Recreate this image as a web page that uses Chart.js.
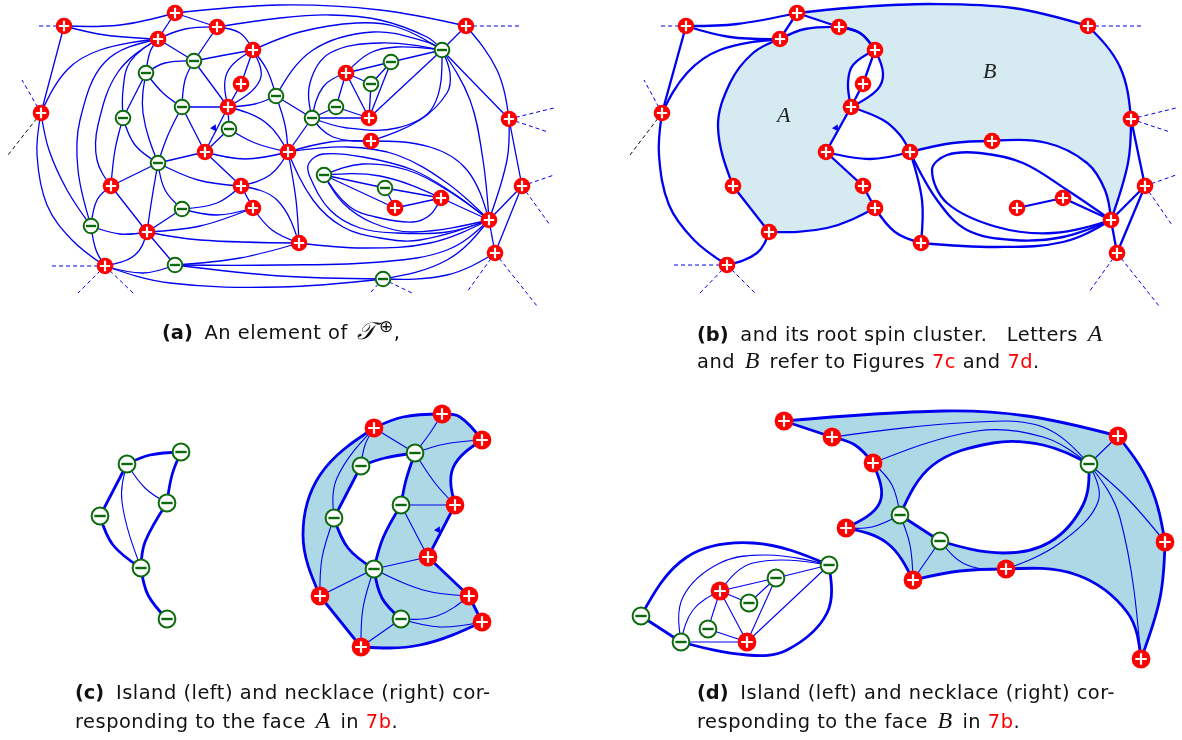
<!DOCTYPE html>
<html>
<head>
<meta charset="utf-8">
<title>Spin clusters</title>
<script src="https://cdn.jsdelivr.net/npm/chart.js@4/dist/chart.umd.min.js"></script>
<style>
  body { margin: 0; background: #fff; }
  #wrap { position: relative; width: 1182px; height: 740px; overflow: hidden; }
  canvas { display: block; }
  .cap { position: absolute; font-family: "DejaVu Sans", sans-serif; font-size: 19.4px; letter-spacing: 0.52px; line-height: 24px; color: #111; white-space: nowrap; }
  .cap b { font-weight: 700; letter-spacing: 0; margin-right: 5px; }
  .cap i, .let { font-family: "Liberation Serif", serif; font-style: italic; }
  .cap i { font-size: 24px; margin: 0 3px; }
  .cap em { font-style: normal; color: #f00; }
  .cap sup { font-size: 17px; line-height: 0; }
  .let { position: absolute; font-size: 22px; color: #222; }
</style>
</head>
<body>
<div id="wrap">
  <canvas id="myChart" width="1182" height="740"></canvas>
  <div class="let" style="left:777px;top:102px">A</div>
  <div class="let" style="left:983px;top:58px">B</div>
  <div class="cap" style="left:162px;top:319px"><b>(a)</b> An element of <i>𝒯</i><sup>⊕</sup>,</div>
  <div class="cap" style="left:697px;top:321px"><b>(b)</b> and its root spin cluster. &nbsp;<span style="margin-left:6px">Letters</span> <i>A</i></div>
  <div class="cap" style="left:697px;top:348px">and <i>B</i> refer to Figures <em>7c</em> and <em>7d</em>.</div>
  <div class="cap" style="left:75px;top:681px"><b>(c)</b> Island (left) and necklace (right) cor-</div>
  <div class="cap" style="left:75px;top:708px">responding to the face <i>A</i> in <em>7b</em>.</div>
  <div class="cap" style="left:697px;top:681px"><b>(d)</b> Island (left) and necklace (right) cor-</div>
  <div class="cap" style="left:697px;top:708px">responding to the face <i>B</i> in <em>7b</em>.</div>
</div>
<script>
/* panel a */
const aPlus = [64,26, 175,13, 158,39, 217,27, 253,50, 241,84, 228,107, 205,152, 288,152, 41,113, 466,26, 346,73, 369,118, 371,141, 509,119, 111,186, 147,232, 241,186, 253,208, 299,243, 105,266, 441,198, 395,208, 489,220, 522,186, 495,253];
const aMinus = [146,73, 194,61, 182,107, 123,118, 276,96, 229,129, 158,163, 442,50, 391,62, 371,84, 336,107, 312,118, 182,209, 91,226, 175,265, 324,175, 385,188, 383,279];
const aEdges = [
  [64,26,120,25,175,13], [64,26,105,35,158,39], [64,26,41,113],
  [175,13,158,39], [175,13,217,27], [175,13,280,5,380,10,466,26],
  [217,27,280,18,330,15,380,20,427,37,442,50], [217,27,240,33,253,50], [217,27,194,61], [158,39,185,29,217,27],
  [158,39,194,61], [158,39,150,52,146,73],
  [158,39,100,50,67,70,41,113],
  [158,39,105,62,80,120,78,170,91,226],
  [158,39,118,72,98,125,97,160,111,186],
  [158,39,130,62,123,90,123,118],
  [41,113,37,155,47,205,72,240,105,266],
  [41,113,49,150,67,190,91,226],
  [146,73,165,63,194,61], [146,73,163,93,182,107], [146,73,143,113,158,163], [146,73,123,118],
  [194,61,185,80,182,107], [194,61,228,107], [194,61,225,55,253,50],
  [182,107,228,107], [182,107,205,152], [182,107,168,135,158,163],
  [123,118,135,145,158,163], [123,118,115,150,111,186],
  [228,107,241,84], [253,50,227,73,228,107], [253,50,260,80,228,107], [241,84,253,50],
  [228,107,255,104,276,96], [228,107,229,129], [228,107,205,152], [229,129,205,152], [229,129,255,143,288,152],
  [228,107,265,122,288,152], [205,152,245,159,288,152], [205,152,158,163], [205,152,241,186],
  [253,50,267,70,276,96], [276,96,285,125,288,152], [276,96,312,118],
  [158,163,198,180,241,186], [158,163,111,186], [158,163,152,198,147,232], [158,163,165,190,182,209],
  [241,186,217,203,182,209], [182,209,217,215,253,208], [182,209,147,232],
  [147,232,200,226,253,208], [147,232,200,240,299,243], [147,232,111,186], [147,232,120,234,91,226],
  [147,232,135,255,105,266], [147,232,175,265],
  [111,186,97,200,91,226], [91,226,96,250,105,266],
  [241,186,277,200,299,243], [253,208,241,186], [253,208,272,230,299,243], [241,186,270,175,288,152],
  [105,266,143,273,175,265], [105,266,170,283,280,287,383,279],
  [175,265,280,265,380,262,447,250,489,220], [175,265,280,276,383,279], [175,265,240,258,299,243],
  [383,279,447,260,489,220], [383,279,447,275,495,253],
  [299,243,363,248,430,243,489,220], [288,152,296,200,299,243],
  [288,152,313,200,343,227,380,238,420,240,489,220],
  [489,220,447,232,397,233,360,228,330,210,310,177,309,163,323,154,363,157,413,170,453,193,489,220],
  [288,152,330,142,371,141], [288,152,347,147,397,155,447,183,489,220], [371,141,430,147,467,170,489,220],
  [324,175,395,208], [324,175,385,188], [324,175,380,176,441,198], [324,175,363,164,407,170,447,190,489,220],
  [324,175,350,207,380,218,413,222,430,215,441,198], [324,175,343,203,373,223,413,232,489,220],
  [385,188,395,208], [385,188,441,198], [395,208,441,198], [441,198,489,220],
  [288,152,312,118], [312,118,369,118], [312,118,336,107], [312,118,323,87,346,73],
  [312,118,310,83,330,53,380,43,442,50], [312,118,347,128,397,128,433,107,442,50], [312,118,333,137,371,141],
  [371,141,420,120,447,93,450,73,442,50], [346,73,370,53,397,47,442,50],
  [253,50,300,32,357,23,397,27,442,50], [276,96,313,50,373,32,427,42,442,50],
  [346,73,391,62], [346,73,371,84], [346,73,336,107], [346,73,369,118], [391,62,442,50], [391,62,371,84],
  [391,62,369,118], [371,84,369,118], [336,107,369,118], [369,118,442,50],
  [442,50,466,26], [442,50,509,119], [442,50,470,100,483,160,489,220],
  [466,26,497,70,509,119], [509,119,507,160,489,220], [509,119,522,186],
  [522,186,489,220], [522,186,495,253], [489,220,495,253]
];
const aDashes = [
  [64,26,38,26], [41,113,22,80], [466,26,522,26], [509,119,554,108], [509,119,548,132],
  [522,186,554,175], [522,186,550,225], [495,253,467,292], [495,253,537,306],
  [105,266,50,266], [105,266,78,293], [105,266,133,293], [383,279,371,292], [383,279,412,293]
];
const aBlackDash = [41,113,8,155];
const aArrow = [214,128];

/* panel b */
const bPlus = [686,26, 797,13, 780,39, 839,27, 875,50, 863,84, 851,107, 826,152, 910,152, 662,113, 1088,26, 992,141, 1131,119, 733,186, 769,232, 863,186, 875,208, 921,243, 727,265, 1063,198, 1017,208, 1111,220, 1145,186, 1117,253];
// boundary of the two shaded faces, edge by edge
const faceAEdges = [
  [780,39,805,29,839,27], [839,27,860,33,875,50], [875,50,853,65,848,83,851,107], [851,107,826,152], [826,152,863,186],
  [863,186,875,208], [875,208,827,228,769,232], [769,232,733,186], [733,186,718,127,730,83,753,53,780,39]
];
const faceBEdges = [
  [797,13,839,27], [839,27,860,33,875,50], [875,50,883,73,877,90,851,107], [851,107,883,120,900,135,910,152], [910,152,953,143,992,141],
  [992,141,1047,143,1087,163,1105,190,1111,220], [1111,220,1128,163,1131,119], [1131,119,1120,67,1088,26], [1088,26,1013,8,930,4,860,7,797,13]
];
const bEdges = [
  [686,26,737,24,797,13], [686,26,730,37,780,39], [686,26,662,113], [780,39,720,50,687,73,662,113],
  [797,13,780,39], [875,50,863,84], [863,84,851,107],
  [662,113,659,155,669,205,694,240,727,265], [727,265,757,253,769,232],
  [826,152,870,159,910,152],
  [910,152,922,200,921,243], [875,208,895,232,921,243], [921,243,997,247,1063,242,1111,220],
  [910,152,937,200,967,230,1013,240,1063,237,1111,220],
  [1111,220,1053,233,997,227,947,203,932,170,947,155,980,153,1023,163,1067,190,1111,220],
  [1017,208,1063,198], [1063,198,1111,220], [1111,220,1145,186], [1131,119,1145,186], [1145,186,1117,253], [1111,220,1117,253]
];
const bDashes = [
  [686,26,660,26], [662,113,644,80], [1088,26,1144,26], [1131,119,1176,108], [1131,119,1170,132],
  [1145,186,1176,175], [1145,186,1172,225], [1117,253,1089,292], [1117,253,1159,306],
  [727,265,672,265], [727,265,700,293], [727,265,755,293]
];
const bBlackDash = [662,113,630,155];
const bArrow = [836,128];

/* panel c */
const cIslandMinus = [127,464, 181,452, 167,503, 100,516, 141,568, 167,619];
const cIslandThick = [
  [127,464,150,455,181,452], [181,452,172,475,167,503], [127,464,100,516], [100,516,113,545,141,568],
  [167,503,145,542,141,568], [141,568,148,595,167,619]
];
const cIslandThin = [[127,464,145,488,167,503], [127,464,122,502,141,568]];
const cPlus = [374,428, 442,414, 482,440, 455,505, 428,557, 469,596, 482,622, 361,647, 320,596];
const cMinus = [361,466, 415,453, 401,505, 334,518, 374,569, 401,619];
const cOuterEdges = [
  [374,428,403,417,442,414], [442,414,460,417,482,440], [482,440,453,468,455,505], [455,505,428,557], [428,557,469,596],
  [469,596,482,622], [482,622,420,645,361,647], [361,647,320,596], [320,596,303,535,320,475,374,428]
];
const cHoleEdges = [
  [361,466,385,458,415,453], [415,453,406,480,401,505], [401,505,383,538,374,569], [374,569,348,548,334,518], [334,518,361,466]
];
const cThick = [[374,569,382,598,401,619]];
const cThin = [
  [374,428,415,453], [374,428,365,445,361,466], [374,428,337,478,334,518], [442,414,430,433,415,453], [482,440,445,444,415,453],
  [415,453,435,483,455,505], [401,505,455,505], [401,505,428,557], [334,518,322,558,320,596], [374,569,428,557], [374,569,320,596],
  [374,569,363,608,361,647], [374,569,423,590,469,596], [401,619,361,647], [401,619,437,616,469,596], [401,619,440,627,482,622]
];
const cArrow = [438,530];

/* panel d */
const dIslandPlus = [720,591, 747,642];
const dIslandMinus = [641,616, 681,642, 708,629, 749,603, 776,578, 829,565];
const dIslandThick = [[641,616,681,642], [641,616,687,557,753,543,829,565], [829,565,827,613,787,650,747,655,681,642]];
const dIslandThin = [
  [681,642,683,597,720,563,767,555,829,565], [720,591,753,563,829,565], [681,642,693,610,720,591], [681,642,747,642],
  [720,591,776,578], [720,591,749,603], [720,591,708,629], [720,591,747,642], [708,629,747,642], [749,603,776,578],
  [776,578,829,565], [776,578,747,642], [747,642,829,565]
];
const dPlus = [784,421, 832,437, 873,463, 846,528, 913,580, 1006,569, 1118,436, 1165,542, 1141,659];
const dMinus = [900,515, 940,541, 1089,464];
const dOuterEdges = [
  [784,421,943,411,1027,416,1118,436], [1118,436,1150,485,1165,542], [1165,542,1160,598,1141,659], [1141,659,1127,612,1077,575,1006,569],
  [1006,569,960,571,913,580], [913,580,887,543,846,528], [846,528,880,502,873,463], [873,463,855,445,832,437], [832,437,784,421]
];
const dHoleEdges = [
  [900,515,933,465,993,443,1043,445,1089,464], [1089,464,1083,505,1050,542,1003,553,940,541], [940,541,900,515]
];
const dThin = [
  [832,437,977,422,1043,427,1089,464], [873,463,977,431,1043,437,1089,464], [873,463,892,485,900,515], [846,528,872,527,900,515],
  [900,515,910,545,913,580], [913,580,940,541], [940,541,967,565,1006,569], [1006,569,1060,543,1098,502,1089,464],
  [1089,464,1118,436], [1089,464,1127,498,1165,542], [1089,464,1120,518,1141,659]
];

const BLUE = '#0000f0';
const GREEN = '#0b6b0b';
const RED = '#ff0000';
const TENSION = 0.36;
var datasets = [];

// flat [x,y,x,y...] to chart points
function pts(a) {
  var out = [];
  for (var i = 0; i < a.length; i += 2) {
    out.push({ x: a[i], y: a[i + 1] });
  }
  return out;
}

function addLines(list, width, color, dash) {
  list.forEach(function (e) {
    datasets.push({
      data: pts(e), showLine: true, pointRadius: 0, borderColor: color, borderWidth: width,
      borderDash: dash || [], tension: TENSION, order: 10
    });
  });
}

// joined edges repeat their end points, which keeps the corners sharp in the spline
function addFace(edges, color, order) {
  datasets.push({
    data: pts([].concat.apply([], edges)), showLine: true, pointRadius: 0, borderWidth: 0, borderColor: 'transparent',
    backgroundColor: color, fill: 'shape', tension: TENSION, order: order
  });
}

function addPlus(a, r) {
  datasets.push({ data: pts(a), pointRadius: r, pointBackgroundColor: RED, pointBorderWidth: 0, order: 5 });
  datasets.push({ data: pts(a), pointStyle: 'cross', pointRadius: r * 0.62, pointBorderColor: '#fff', pointBorderWidth: 2.2, order: 1 });
}

function addMinus(a, r) {
  datasets.push({ data: pts(a), pointRadius: r - 1, pointBackgroundColor: '#fff', pointBorderColor: GREEN, pointBorderWidth: 2, order: 5 });
  datasets.push({ data: pts(a), pointStyle: 'line', pointRadius: r * 0.6, pointBorderColor: GREEN, pointBorderWidth: 2.4, order: 1 });
}

function addArrow(a, angle) {
  datasets.push({ data: pts(a), pointStyle: 'triangle', rotation: angle, pointRadius: 4, pointBackgroundColor: BLUE, pointBorderColor: BLUE, pointBorderWidth: 0, order: 4 });
}

/* faces */
addFace(faceAEdges, '#d6eaf2', 30);
addFace(faceBEdges, '#d6eaf2', 30);
addFace(cOuterEdges, '#add8e6', 30);
addFace(cHoleEdges, '#ffffff', 29);
addFace(dOuterEdges, '#add8e6', 30);
addFace(dHoleEdges, '#ffffff', 29);

/* edges */
addLines(aEdges, 1.3, BLUE);
addLines(aDashes, 1, BLUE, [4, 3]);
addLines([aBlackDash, bBlackDash], 1, '#111', [4, 3]);
addLines(bEdges.concat(faceAEdges, faceBEdges), 2.3, BLUE);
addLines(bDashes, 1, BLUE, [4, 3]);
addLines(cIslandThick.concat(cOuterEdges, cHoleEdges, cThick, dIslandThick, dOuterEdges, dHoleEdges), 2.8, BLUE);
addLines(cIslandThin.concat(cThin, dIslandThin, dThin), 1.1, BLUE);

/* nodes */
addPlus(aPlus, 8.3);
addMinus(aMinus, 8.3);
addPlus(bPlus, 8.3);
addPlus(cPlus.concat(dPlus, dIslandPlus), 9.4);
addMinus(cIslandMinus.concat(cMinus, dMinus, dIslandMinus), 9.4);
addArrow(aArrow, 25);
addArrow(bArrow, 25);
addArrow(cArrow, 25);

// the default spline has no handle at the end of a line, so the curves look bent in the
// middle. aim the end handles at the neighbour's handle instead.
const roundEnds = {
  id: 'roundEnds',
  beforeDatasetsDraw: function (chart) {
    chart.getSortedVisibleDatasetMetas().forEach(function (meta) {
      if (!meta.dataset) return;
      meta.dataset.updateControlPoints(chart.chartArea, chart.options.indexAxis);
      var p = meta.data;
      for (var i = 0; i < p.length; i++) {
        var prev = p[i - 1], next = p[i + 1];
        var noPrev = !prev || (prev.x === p[i].x && prev.y === p[i].y);
        var noNext = !next || (next.x === p[i].x && next.y === p[i].y);
        if (noPrev && !noNext) {
          p[i].cp2x = p[i].x + (next.cp1x - p[i].x) * 0.5;
          p[i].cp2y = p[i].y + (next.cp1y - p[i].y) * 0.5;
        }
        if (noNext && !noPrev) {
          p[i].cp1x = p[i].x + (prev.cp2x - p[i].x) * 0.5;
          p[i].cp1y = p[i].y + (prev.cp2y - p[i].y) * 0.5;
        }
      }
    });
  }
};

var ctx = document.getElementById('myChart').getContext('2d');
new Chart(ctx, {
  type: 'scatter',
  data: { datasets: datasets },
  plugins: [roundEnds],
  options: {
    responsive: false,
    animation: false,
    layout: { padding: 0, autoPadding: false },
    plugins: { legend: { display: false }, tooltip: { enabled: false } },
    scales: {
      x: { type: 'linear', min: 0, max: 1182, display: false },
      y: { type: 'linear', min: 0, max: 740, reverse: true, display: false }
    }
  }
});
</script>
</body>
</html>
